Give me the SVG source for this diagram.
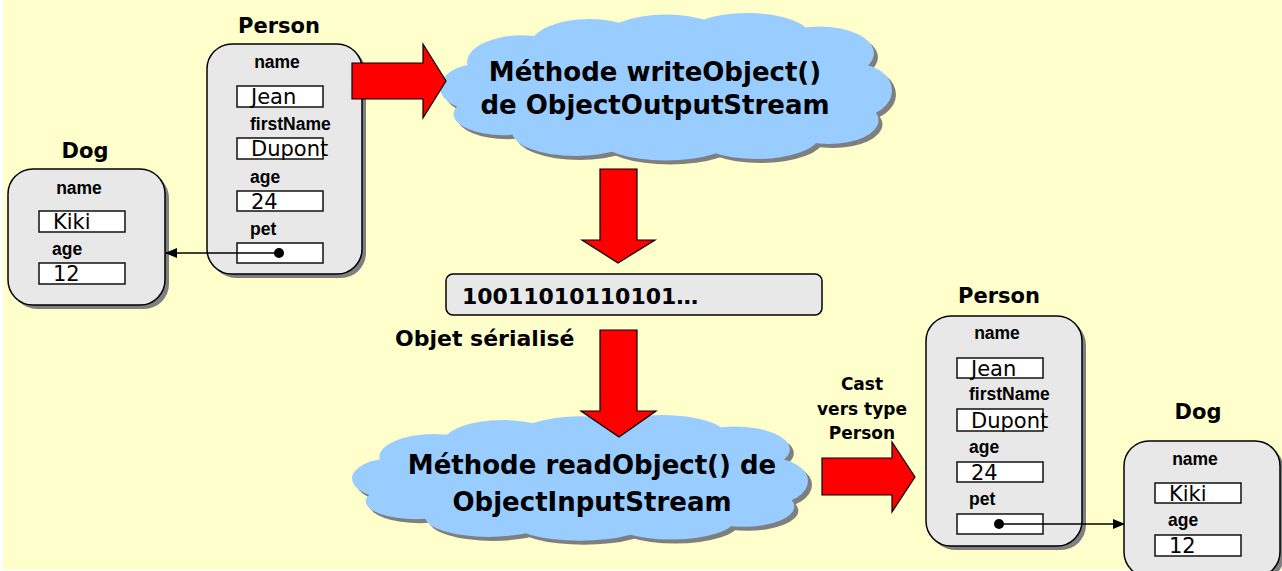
<svg xmlns="http://www.w3.org/2000/svg" xmlns:xlink="http://www.w3.org/1999/xlink" width="1282" height="571" viewBox="0 0 1282 571">
<style>
.bg{fill:#FFFFCC}
.box{fill:#E8E8E8;stroke:#000;stroke-width:1.5}
.shadow{fill:#7F7F7F}
.field{fill:#FFF;stroke:#111;stroke-width:1.5}
.lbl{font-family:"Liberation Sans",Arial,sans-serif;font-weight:bold;font-size:17.5px;fill:#000}
.val{font-family:"DejaVu Sans",sans-serif;font-size:21px;fill:#000}
.title{font-family:"DejaVu Sans",sans-serif;font-weight:bold;font-size:21px;fill:#000;text-anchor:middle}
.cloudtxt{font-family:"DejaVu Sans",sans-serif;font-weight:bold;font-size:26px;fill:#000;text-anchor:middle}
.txt{font-family:"DejaVu Sans",sans-serif;font-weight:bold;fill:#000}
.red{fill:#FF0000;stroke:#000;stroke-width:1.2;stroke-linejoin:miter}
.conn{stroke:#000;stroke-width:1.3;fill:none}
</style>
<defs>
<g id="cloudShape">
<ellipse cx="50" cy="52" rx="42" ry="32"/>
<ellipse cx="9" cy="50" rx="9" ry="16"/>
<ellipse cx="18" cy="33" rx="12" ry="18"/>
<ellipse cx="33" cy="22" rx="13" ry="18"/>
<ellipse cx="50" cy="18" rx="14" ry="17"/>
<ellipse cx="68" cy="16" rx="14" ry="16"/>
<ellipse cx="84" cy="27" rx="12" ry="18"/>
<ellipse cx="92" cy="52" rx="8" ry="18"/>
<ellipse cx="86" cy="72" rx="11" ry="16"/>
<ellipse cx="70" cy="82" rx="14" ry="16"/>
<ellipse cx="50" cy="84" rx="15" ry="15"/>
<ellipse cx="30" cy="80" rx="14" ry="16"/>
<ellipse cx="14" cy="68" rx="11" ry="14"/>
</g>
<marker id="arr" markerWidth="12" markerHeight="10" refX="11" refY="5" orient="auto" markerUnits="userSpaceOnUse">
<path d="M0,0 L12,5 L0,10 z" fill="#000"/>
</marker>
</defs>
<rect x="3" y="0" width="1279" height="570" class="bg"/>

<g id="person1" transform="translate(207,44)">
<text class="title" x="72" y="-11">Person</text>
<rect x="4" y="4" width="155" height="230" rx="25" class="shadow"/>
<rect x="0" y="0" width="155" height="230" rx="25" class="box"/>
<text class="lbl" x="70" y="24" text-anchor="middle">name</text>
<rect x="30" y="42" width="86" height="21" class="field"/>
<text class="val" x="44" y="60">Jean</text>
<text class="lbl" x="43" y="86">firstName</text>
<rect x="30" y="94" width="86" height="21" class="field"/>
<text class="val" x="44" y="112">Dupont</text>
<text class="lbl" x="43" y="139">age</text>
<rect x="30" y="147" width="86" height="20" class="field"/>
<text class="val" x="44" y="165">24</text>
<text class="lbl" x="43" y="191">pet</text>
<rect x="30" y="199" width="86" height="20" class="field"/>
</g>

<g id="dog1" transform="translate(8,169)">
<text class="title" x="77" y="-11">Dog</text>
<rect x="4" y="4" width="157" height="136" rx="25" class="shadow"/>
<rect x="0" y="0" width="157" height="136" rx="25" class="box"/>
<text class="lbl" x="71" y="25" text-anchor="middle">name</text>
<rect x="31" y="42" width="86" height="21" class="field"/>
<text class="val" x="45" y="60">Kiki</text>
<text class="lbl" x="44" y="86">age</text>
<rect x="31" y="94" width="86" height="21" class="field"/>
<text class="val" x="45" y="112">12</text>
</g>

<g id="cloud1">
<use xlink:href="#cloudShape" href="#cloudShape" fill="#7F7F7F" transform="translate(444,17) scale(4.52,1.49)"/>
<use xlink:href="#cloudShape" href="#cloudShape" fill="#99CCFF" transform="translate(440,13) scale(4.52,1.49)"/>
<text class="cloudtxt" x="655" y="81">Méthode writeObject()</text>
<text class="cloudtxt" x="655" y="114">de ObjectOutputStream</text>
</g>

<g id="serialized">
<rect x="446" y="274" width="376" height="41" rx="7" class="box"/>
<text class="txt" x="462" y="304" font-size="22">10011010110101…</text>
<text class="txt" x="395" y="346" font-size="22">Objet sérialisé</text>
</g>

<g id="cloud2">
<use xlink:href="#cloudShape" href="#cloudShape" fill="#7F7F7F" transform="translate(356,419) scale(4.56,1.27)"/>
<use xlink:href="#cloudShape" href="#cloudShape" fill="#99CCFF" transform="translate(352,415) scale(4.56,1.27)"/>
<text class="cloudtxt" x="592" y="474">Méthode readObject() de</text>
<text class="cloudtxt" x="592" y="511">ObjectInputStream</text>
</g>

<g id="castLabel">
<text class="txt" font-size="17" text-anchor="middle" x="862" y="390">Cast</text>
<text class="txt" font-size="17" text-anchor="middle" x="862" y="415">vers type</text>
<text class="txt" font-size="17" text-anchor="middle" x="862" y="439">Person</text>
</g>

<g id="person2" transform="translate(926,316)">
<text class="title" x="73" y="-13">Person</text>
<rect x="4" y="4" width="156" height="230" rx="25" class="shadow"/>
<rect x="0" y="0" width="156" height="230" rx="25" class="box"/>
<text class="lbl" x="71" y="23" text-anchor="middle">name</text>
<rect x="31" y="42" width="86" height="20" class="field"/>
<text class="val" x="45" y="60">Jean</text>
<text class="lbl" x="43" y="84">firstName</text>
<rect x="31" y="93" width="86" height="22" class="field"/>
<text class="val" x="45" y="112">Dupont</text>
<text class="lbl" x="43" y="137">age</text>
<rect x="31" y="146" width="86" height="20" class="field"/>
<text class="val" x="45" y="164">24</text>
<text class="lbl" x="43" y="189">pet</text>
<rect x="31" y="198" width="86" height="20" class="field"/>
</g>

<g id="dog2" transform="translate(1124,441)">
<text class="title" x="74" y="-22">Dog</text>
<rect x="4" y="4" width="156" height="136" rx="25" class="shadow"/>
<rect x="0" y="0" width="156" height="136" rx="25" class="box"/>
<text class="lbl" x="71" y="24" text-anchor="middle">name</text>
<rect x="31" y="42" width="86" height="20" class="field"/>
<text class="val" x="45" y="60">Kiki</text>
<text class="lbl" x="44" y="85">age</text>
<rect x="31" y="94" width="86" height="21" class="field"/>
<text class="val" x="45" y="112">12</text>
</g>

<g id="connectors">
<polygon class="red" points="352,63 423,63 423,44 446,81 423,118 423,99 352,99"/>
<polygon class="red" points="600,169 637,169 637,240 655,240 618,263 582,240 600,240"/>
<polygon class="red" points="600,330 637,330 637,411 656,411 619,437 581,411 600,411"/>
<polygon class="red" points="822,458 892,458 892,442 915,477 892,512 892,495 822,495"/>
<line class="conn" x1="279" y1="253" x2="166" y2="253" marker-end="url(#arr)"/>
<circle cx="279" cy="253" r="5" fill="#000"/>
<line class="conn" x1="999" y1="524" x2="1124" y2="524" marker-end="url(#arr)"/>
<circle cx="999" cy="524" r="5" fill="#000"/>
</g>
</svg>
